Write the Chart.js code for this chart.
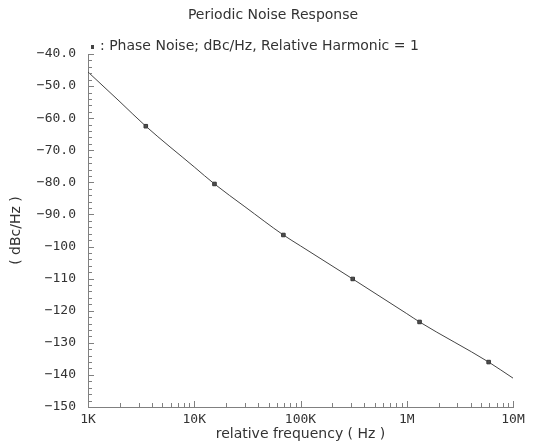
<!DOCTYPE html>
<html>
<head>
<meta charset="utf-8">
<script src="https://cdn.jsdelivr.net/npm/chart.js@4.4.1/dist/chart.umd.min.js"></script>
<style>
  html, body { margin: 0; padding: 0; background: #fff; }
  #wrap { width: 533px; height: 443px; }
</style>
</head>
<body>
<div id="wrap"><canvas id="chart" width="533" height="443"></canvas></div>
<script>
// --- data ---
const chartTitle = 'Periodic Noise Response';
const seriesLabel = 'Phase Noise; dBc/Hz, Relative Harmonic = 1';

// full curve (Hz, dBc/Hz)
const curveFreq = [1e3, 2e3, 3.5e3, 1e4, 1.55e4, 3e4, 6.9e4, 1e5, 3.1e5, 1e6, 1.32e6, 5.9e6, 1e7];
const curveDb   = [-45.6, -54.9, -62.5, -75.2, -80.5, -87.6, -96.4, -99.8, -110.1, -120.9, -123.5, -136.0, -141.0];

// marker symbols sitting on the curve
const markerFreq = [3.5e3, 1.55e4, 6.9e4, 3.1e5, 1.32e6, 5.9e6];
const markerDb   = [-62.5, -80.5, -96.4, -110.1, -123.5, -136.0];

// axis ticks
const xDecades = [1e3, 1e4, 1e5, 1e6, 1e7];
const xDecadeLabels = ['1K', '10K', '100K', '1M', '10M'];
const yMin = -150;
const yMax = -40;

const textColor = '#333';
const axisColor = '#808080';
const lineColor = '#444';
const textFont = { family: 'DejaVu Sans', size: 14 };
const tickFont = { family: 'DejaVu Sans Mono', size: 13 };

function fmtY(v) {
  const s = v > -100 ? Math.abs(v).toFixed(1) : String(Math.abs(v));
  return '\u2212' + s;
}

// tick marks pointing into the plot, like the original
const innerTicks = {
  id: 'innerTicks',
  afterDraw(chart) {
    const { ctx, chartArea: a, scales: { x, y } } = chart;
    ctx.save();
    ctx.strokeStyle = axisColor;
    ctx.lineWidth = 1;
    ctx.beginPath();
    x.ticks.forEach(t => {
      const px = Math.round(x.getPixelForValue(t.value)) + 0.5;
      const major = xDecades.includes(t.value);
      ctx.moveTo(px, a.bottom);
      ctx.lineTo(px, a.bottom - (major ? 6 : 4));
    });
    y.ticks.forEach(t => {
      const py = Math.round(y.getPixelForValue(t.value)) + 0.5;
      const major = t.value % 10 === 0;
      ctx.moveTo(a.left, py);
      ctx.lineTo(a.left + (major ? 6 : 4), py);
    });
    ctx.stroke();
    ctx.restore();
  }
};

// title + legend line (marker symbol + ": " + series label)
const headerText = {
  id: 'headerText',
  afterDraw(chart) {
    const { ctx } = chart;
    ctx.save();
    ctx.fillStyle = textColor;
    ctx.textBaseline = 'middle';
    ctx.textAlign = 'center';
    ctx.font = textFont.size + 'px ' + textFont.family;
    ctx.fillText(chartTitle, 273, 15);
    ctx.textAlign = 'left';
    ctx.fillStyle = '#444';
    ctx.fillRect(91, 45, 3, 4);
    ctx.fillStyle = textColor;
    ctx.fillText(': ' + seriesLabel, 100, 46);
    ctx.restore();
  }
};

new Chart(document.getElementById('chart'), {
  type: 'line',
  data: {
    datasets: [
      {
        label: seriesLabel,
        data: curveFreq.map((f, i) => ({ x: f, y: curveDb[i] })),
        borderColor: lineColor,
        borderWidth: 1,
        pointRadius: 0,
        cubicInterpolationMode: 'monotone',
        fill: false
      },
      {
        label: 'markers',
        data: markerFreq.map((f, i) => ({ x: f, y: markerDb[i] })),
        showLine: false,
        pointStyle: 'rect',
        pointRadius: 2.5,
        backgroundColor: '#555',
        borderColor: '#333',
        borderWidth: 1
      }
    ]
  },
  options: {
    responsive: false,
    animation: false,
    devicePixelRatio: 1,
    layout: { padding: { top: 54, right: 20, bottom: 0, left: 0 } },
    plugins: {
      legend: { display: false },
      tooltip: { enabled: false },
      title: { display: false }
    },
    scales: {
      x: {
        type: 'logarithmic',
        min: 1e3,
        max: 1e7,
        afterBuildTicks(scale) {
          const ticks = [];
          for (let d = 1e3; d < 1e7; d *= 10) {
            for (let m = 1; m <= 9; m++) ticks.push({ value: m * d });
          }
          ticks.push({ value: 1e7 });
          scale.ticks = ticks;
        },
        afterFit(scale) { scale.height = 36; },
        grid: { display: false, drawTicks: false },
        border: { display: true, color: axisColor, width: 1 },
        ticks: {
          autoSkip: false,
          maxRotation: 0,
          padding: 5,
          color: textColor,
          font: tickFont,
          callback(value) {
            const i = xDecades.indexOf(value);
            return i >= 0 ? xDecadeLabels[i] : '';
          }
        },
        title: {
          display: true,
          text: 'relative frequency ( Hz )',
          color: textColor,
          font: textFont,
          padding: { top: 0, bottom: 0 }
        }
      },
      y: {
        min: yMin,
        max: yMax,
        afterFit(scale) { scale.width = 88; },
        grid: { display: false, drawTicks: false },
        border: { display: true, color: axisColor, width: 1 },
        ticks: {
          stepSize: 2,
          autoSkip: false,
          padding: 12,
          color: textColor,
          font: tickFont,
          callback(value) {
            return value % 10 === 0 ? fmtY(value) : '';
          }
        },
        title: {
          display: true,
          text: '( dBc/Hz )',
          color: textColor,
          font: textFont,
          padding: { top: 8, bottom: 0 }
        }
      }
    }
  },
  plugins: [innerTicks, headerText]
});
</script>
</body>
</html>
